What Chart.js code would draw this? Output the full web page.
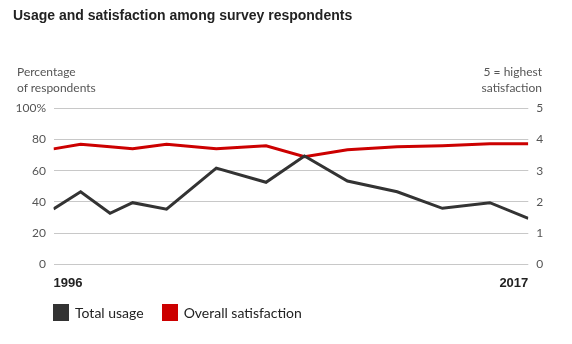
<!DOCTYPE html>
<html>
<head>
<meta charset="utf-8">
<script src="https://cdn.jsdelivr.net/npm/chart.js@4.4.1/dist/chart.umd.min.js"></script>
<style>
  html, body { margin: 0; padding: 0; background: #fff; }
  #wrap { position: relative; width: 572px; height: 344px; overflow: hidden; }
  canvas { position: absolute; left: 0; top: 0; }
  .t { position: absolute; white-space: nowrap; }
  #title { left: 13px; top: 7px; font: bold 14px "Liberation Sans", Arial, sans-serif; color: #222; }
  .axt { font: 12px Lato, "Liberation Sans", sans-serif; color: #555; line-height: 16px; }
  #ltitle { left: 17px; top: 64px; }
  #rtitle { right: 30px; top: 64px; text-align: right; }
  #legend { left: 53px; top: 304px; font: 14px Lato, "Liberation Sans", sans-serif; color: #222; display: flex; align-items: center; }
  .sw { display: inline-block; width: 16px; height: 17px; margin-right: 6px; }
  .item { display: flex; align-items: center; margin-right: 18px; }
</style>
</head>
<body>
<div id="wrap">
  <canvas id="c" width="572" height="344"></canvas>
  <div id="title" class="t">Usage and satisfaction among survey respondents</div>
  <div id="ltitle" class="t axt">Percentage<br>of respondents</div>
  <div id="rtitle" class="t axt">5 = highest<br>satisfaction</div>
  <div id="legend" class="t"></div>
</div>
<script>
// Survey years (fractional: survey dates are unevenly spaced)
const surveyYears = [1996, 1997.2, 1998.5, 1999.5, 2001, 2003.2, 2005.4, 2007.1, 2009, 2011.2, 2013.2, 2015.3, 2017];
// Total usage, % of respondents
const totalUsage = [35.5, 46.5, 32.7, 39.5, 35.3, 61.7, 52.6, 69.4, 53.4, 46.5, 35.9, 39.5, 29.5];
// Overall satisfaction, scale 0-5
const overallSatisfaction = [3.7, 3.85, 3.77, 3.7, 3.85, 3.7, 3.8, 3.45, 3.67, 3.77, 3.8, 3.86, 3.86];
const xTickLabels = [1996, 2017];
const leftTicks = [0, 20, 40, 60, 80, 100];
const rightTicks = [0, 1, 2, 3, 4, 5];
const seriesNames = ['Total usage', 'Overall satisfaction'];
const seriesColors = ['#333333', '#cc0000'];

const usagePts = surveyYears.map((x, i) => ({ x, y: totalUsage[i] }));
const satPts = surveyYears.map((x, i) => ({ x, y: overallSatisfaction[i] }));

const tickFont = { family: 'Lato, "Liberation Sans", sans-serif', size: 12 };

new Chart(document.getElementById('c'), {
  type: 'line',
  data: {
    datasets: [
      { label: seriesNames[0], data: usagePts, yAxisID: 'y', borderColor: seriesColors[0], backgroundColor: seriesColors[0], borderWidth: 3, pointRadius: 0, tension: 0, borderJoinStyle: 'miter' },
      { label: seriesNames[1], data: satPts, yAxisID: 'y1', borderColor: seriesColors[1], backgroundColor: seriesColors[1], borderWidth: 3, pointRadius: 0, tension: 0, borderJoinStyle: 'miter' }
    ]
  },
  options: {
    responsive: false,
    animation: false,
    layout: { padding: { top: 108.3, bottom: 49.7, left: 0, right: 0 } },
    plugins: { legend: { display: false }, tooltip: { enabled: false } },
    scales: {
      x: {
        type: 'linear',
        min: 1996, max: 2017,
        afterBuildTicks: s => { s.ticks = xTickLabels.map(v => ({ value: v })); },
        afterFit: s => { s.height = 30; },
        grid: { display: false },
        border: { display: false },
        ticks: {
          align: 'inner', padding: 3, maxRotation: 0,
          color: '#222',
          font: { family: '"Liberation Sans", Arial, sans-serif', size: 13, weight: 'bold' },
          callback: v => String(v)
        }
      },
      y: {
        position: 'left',
        min: 0, max: 100,
        afterBuildTicks: s => { s.ticks = leftTicks.map(v => ({ value: v })); },
        afterFit: s => { s.width = 53.5; },
        grid: { color: '#c8c8c8', lineWidth: 1, drawTicks: false },
        border: { display: false },
        ticks: { padding: 7.5, color: '#555', font: tickFont, callback: v => v === 100 ? '100%' : String(v) }
      },
      y1: {
        position: 'right',
        min: 0, max: 5,
        afterBuildTicks: s => { s.ticks = rightTicks.map(v => ({ value: v })); },
        afterFit: s => { s.width = 43.7; },
        grid: { display: false, drawTicks: false },
        border: { display: false },
        ticks: { padding: 8, color: '#555', font: tickFont, callback: v => String(v) }
      }
    }
  }
});

const legend = document.getElementById('legend');
seriesNames.forEach((name, i) => {
  const item = document.createElement('span');
  item.className = 'item';
  const sw = document.createElement('span');
  sw.className = 'sw';
  sw.style.background = seriesColors[i];
  item.appendChild(sw);
  item.appendChild(document.createTextNode(name));
  legend.appendChild(item);
});
</script>
</body>
</html>
